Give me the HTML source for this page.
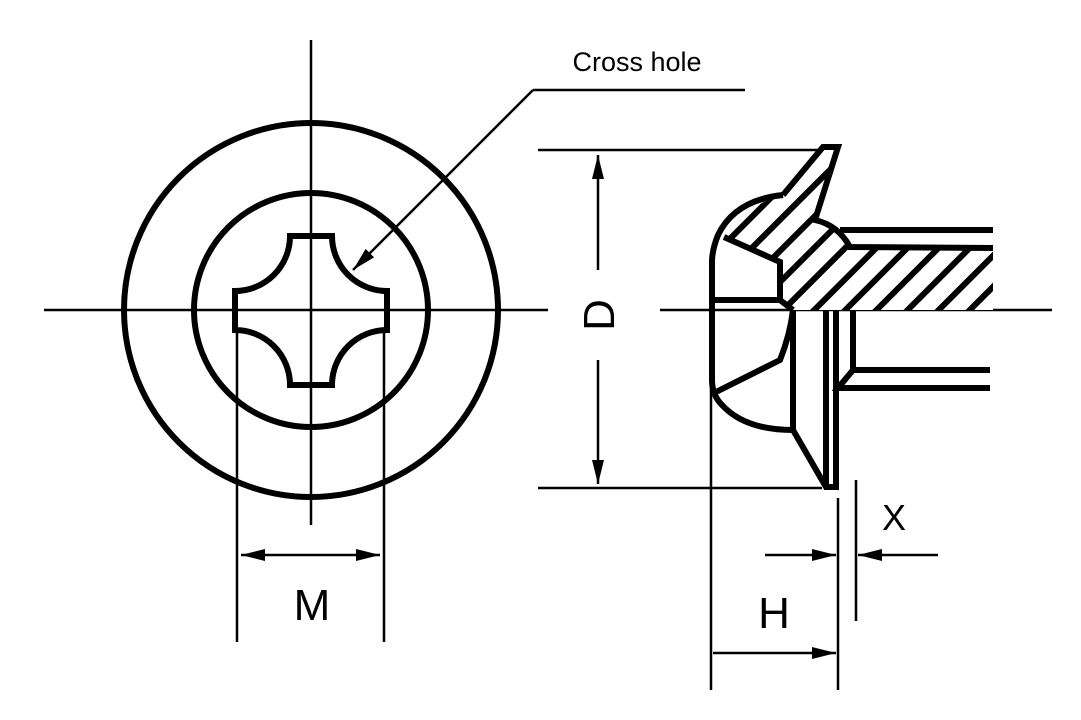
<!DOCTYPE html>
<html><head><style>body{margin:0;background:#fff}svg{display:block}</style></head><body>
<svg width="1081" height="720" viewBox="0 0 1081 720" xmlns="http://www.w3.org/2000/svg">
<defs>
<marker id="b" viewBox="0 0 10 10" refX="10" refY="5" markerWidth="24" markerHeight="24" markerUnits="userSpaceOnUse" orient="auto-start-reverse"><path d="M0,2.5 L10,5 L0,7.5 z" fill="#000"/></marker>
<pattern id="h" patternUnits="userSpaceOnUse" width="22" height="22" patternTransform="rotate(-45)"><rect width="22" height="22" fill="#fff"/><rect x="0" y="0" width="22" height="6" fill="#000"/></pattern>
</defs>
<g stroke="#000" fill="none">
<line x1="44" y1="310" x2="548" y2="310" stroke-width="2.5"/>
<line x1="311" y1="40" x2="311" y2="525" stroke-width="2.5"/>
<circle cx="311" cy="310" r="187" stroke-width="6"/>
<circle cx="311" cy="310" r="117" stroke-width="6"/>
<path d="M290,236 L332,236 A55,55 0 0 0 387,291 L387,330 A55,55 0 0 0 332,385 L290,385 A55,55 0 0 0 235,330 L235,291 A55,55 0 0 0 290,236 Z" stroke-width="6"/>
<line x1="237" y1="330" x2="237" y2="642" stroke-width="2.5"/>
<line x1="384" y1="330" x2="384" y2="642" stroke-width="2.5"/>
<line x1="241" y1="555" x2="380" y2="555" stroke-width="2.5" marker-start="url(#b)" marker-end="url(#b)"/>
<line x1="533" y1="90" x2="745" y2="90" stroke-width="2.5"/>
<line x1="533" y1="90" x2="353" y2="270" stroke-width="2.5" marker-end="url(#b)"/>
<line x1="538" y1="150" x2="822" y2="150" stroke-width="2.5"/>
<line x1="538" y1="488" x2="822" y2="488" stroke-width="2.5"/>
<line x1="598" y1="155" x2="598" y2="270" stroke-width="2.5" marker-start="url(#b)"/>
<line x1="598" y1="360" x2="598" y2="484" stroke-width="2.5" marker-end="url(#b)"/>
<line x1="660" y1="310" x2="1052" y2="310" stroke-width="2.5"/>
<line x1="711" y1="385" x2="711" y2="690" stroke-width="2.5"/>
<line x1="838" y1="498" x2="838" y2="690" stroke-width="2.5"/>
<line x1="856" y1="480" x2="856" y2="621" stroke-width="2.5"/>
<line x1="713" y1="653" x2="836" y2="653" stroke-width="2.5" marker-end="url(#b)"/>
<line x1="765" y1="555" x2="836" y2="555" stroke-width="2.5" marker-end="url(#b)"/>
<line x1="938" y1="555" x2="858" y2="555" stroke-width="2.5" marker-end="url(#b)"/>
<path d="M783,195 L823,147 L838,147 L815,220 Q838,225 850,247 L993,248 L993,310 L793,310 L780,300 L780,262 L724,237 Q745,205 783,195 Z" fill="url(#h)" stroke="none"/>
<path d="M993,248 L850,247 Q838,225 815,220 L838,147 L823,147 L783,195 M724,237 L780,262 L780,300 L712,300 M780,300 L793,310" stroke-width="6"/>
<path d="M783,195 Q735,200 718,235 Q712,250 712,262 L712,380 Q712,395 722,405 Q745,430 793,430" stroke-width="6"/>
<path d="M793,310 Q790,335 780,360 L716,392" stroke-width="6"/>
<line x1="793" y1="310" x2="793" y2="430" stroke-width="6"/>
<path d="M793,430 L826,487 L836,487 L836,310" stroke-width="6"/>
<line x1="826" y1="310" x2="826" y2="487" stroke-width="6"/>
<line x1="840" y1="230" x2="993" y2="230" stroke-width="6"/>
<path d="M853,310 L853,370 L990,370" stroke-width="6"/>
<path d="M853,370 L838,388 L990,388" stroke-width="6"/>
</g>
<g font-family="Liberation Sans, sans-serif" fill="#000">
<text x="637" y="71" font-size="27" text-anchor="middle">Cross hole</text>
<text x="312" y="620" font-size="44" text-anchor="middle">M</text>
<text x="774" y="628" font-size="44" text-anchor="middle">H</text>
<text x="894" y="530" font-size="36" text-anchor="middle">X</text>
<text x="0" y="0" font-size="44" text-anchor="middle" transform="translate(614,315) rotate(-90)">D</text>
</g>
</svg>
</body></html>
